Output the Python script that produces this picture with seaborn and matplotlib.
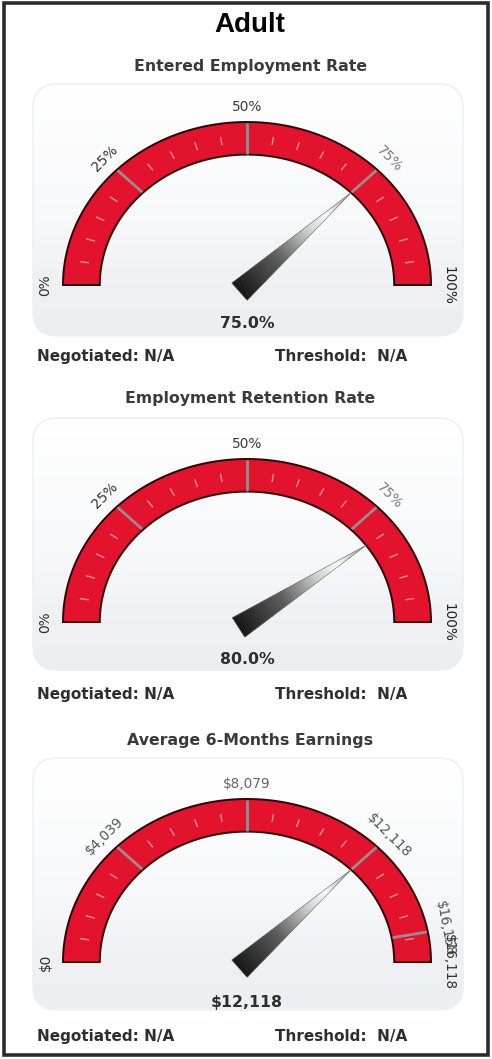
import numpy as np
import matplotlib
matplotlib.use("Agg")
import matplotlib.pyplot as plt
from matplotlib.patches import Polygon, FancyBboxPatch, Rectangle
from matplotlib.collections import PolyCollection, LineCollection
from matplotlib.colors import LinearSegmentedColormap
import seaborn as sns

sns.set_theme(style="white")
plt.rcParams['font.family'] = ['DejaVu Sans']

# ---------------- data ----------------
page_title = "Adult"
gauge_titles = ["Entered Employment Rate", "Employment Retention Rate", "Average 6-Months Earnings"]
gauge_values = [75.0, 80.0, 12118]
gauge_max = [100.0, 100.0, 16158]
value_labels = ["75.0%", "80.0%", "$12,118"]
tick_values = [
    [0, 25, 50, 75, 100],
    [0, 25, 50, 75, 100],
    [0, 4039, 8079, 12118, 15200, 16158],
]
tick_labels = [
    ["0%", "25%", "50%", "75%", "100%"],
    ["0%", "25%", "50%", "75%", "100%"],
    ["$0", "$4,039", "$8,079", "$12,118", "$16,158", "$16,118"],
]
tick_colors = [
    ["#2e2e2e", "#333333", "#3a3a3a", "#7a7a7a", "#222222"],
    ["#2e2e2e", "#333333", "#3a3a3a", "#7a7a7a", "#222222"],
    ["#2e2e2e", "#555555", "#666666", "#555555", "#555555", "#333333"],
]
negotiated = ["N/A", "N/A", "N/A"]
threshold = ["N/A", "N/A", "N/A"]

# ---------------- layout / style ----------------
W, H = 492, 1059
RED = "#e3122d"
TEXT = "#2e2e2e"
title_y = [67, 398, 740]
panel_top = [84, 418, 758]
center_y = [285, 622, 962]
value_y = [323, 660, 1002]
neg_y = [357, 694, 1037]
CX, RX, RY = 247, 184, 163
R_IN = 0.8

fig = plt.figure(figsize=(W / 100, H / 100), dpi=100)
fig.patch.set_facecolor("white")
ax = fig.add_axes([0, 0, 1, 1])
ax.set_xlim(0, W)
ax.set_ylim(H, 0)
ax.axis("off")

# outer frame
ax.add_patch(Rectangle((4, 3), 484, 1052, fill=False, ec="#2b2b2b", lw=2.6, zorder=10))

ax.text(250, 25, page_title, ha="center", va="center", fontsize=20,
        fontweight="bold", family="Liberation Sans", color="black")

panel_cmap = LinearSegmentedColormap.from_list(
    "panel", [(0, "#ffffff"), (0.55, "#f7f8fa"), (0.8, "#eef0f4"), (1, "#eceef2")])
needle_cmap = LinearSegmentedColormap.from_list(
    "needle", [(0, "#101010"), (0.35, "#5a5a5a"), (0.62, "#cfcfcf"),
               (0.78, "#fbfbfb"), (1, "#9a9a9a")])


def ell(r, th, cy):
    return CX + RX * r * np.cos(th), cy - RY * r * np.sin(th)


def draw_gauge(i):
    cy = center_y[i]
    # panel
    pt = panel_top[i]
    patch = FancyBboxPatch((33, pt), 430, 252, boxstyle="round,pad=0,rounding_size=24",
                           fc="none", ec="#eceef1", lw=1.0, zorder=1)
    ax.add_patch(patch)
    grad = np.linspace(0, 1, 256).reshape(-1, 1)
    im = ax.imshow(grad, cmap=panel_cmap, extent=(33, 463, pt + 252, pt),
                   aspect="auto", zorder=0.5, interpolation="bilinear")
    im.set_clip_path(patch)

    # band
    t = np.linspace(np.pi, 0, 300)
    ox, oy = ell(1.0, t, cy)
    ix, iy = ell(R_IN, t[::-1], cy)
    band = Polygon(np.c_[np.r_[ox, ix], np.r_[oy, iy]], closed=True,
                   fc=RED, ec="#2a0508", lw=1.4, zorder=3)
    ax.add_patch(band)

    vmax = gauge_max[i]
    # minor ticks every 5%
    segs = []
    for k in range(1, 20):
        if k % 5 == 0:
            continue
        th = np.pi * (1 - k / 20)
        x0, y0 = ell(0.87, th, cy)
        x1, y1 = ell(0.92, th, cy)
        segs.append([(x0, y0), (x1, y1)])
    ax.add_collection(LineCollection(segs, colors="#f4909c", lw=1.0, zorder=4))

    # major ticks + labels
    for v, lab, col in zip(tick_values[i], tick_labels[i], tick_colors[i]):
        f = v / vmax
        th = np.pi * (1 - f)
        if 0 < f < 1:
            x0, y0 = ell(R_IN + 0.005, th, cy)
            x1, y1 = ell(0.995, th, cy)
            ax.plot([x0, x1], [y0, y1], color="#9b8c8e", lw=2.0, zorder=4,
                    solid_capstyle="butt")
        lx, ly = ell(1.095, th, cy)
        rot = np.degrees(th) - 90
        ax.text(lx, ly, lab, ha="center", va="center", rotation=rot,
                rotation_mode="anchor", fontsize=9.8, color=col, zorder=5)

    # needle
    f = gauge_values[i] / vmax
    th = np.pi * (1 - f)
    tipx, tipy = ell(R_IN, th, cy)
    d = np.array([tipx - CX, tipy - cy])
    L = np.hypot(*d)
    u = d / L
    n = np.array([-u[1], u[0]])
    base = np.array([CX, cy]) - 10 * u
    total = L + 10
    hw = 11.5
    N = 80
    polys, cols = [], []
    for k in range(N):
        s0, s1 = k / N, (k + 1) / N
        p0 = base + u * total * s0
        p1 = base + u * total * s1
        w0, w1 = hw * (1 - s0), hw * (1 - s1)
        polys.append([p0 + n * w0, p1 + n * w1, p1 - n * w1, p0 - n * w0])
        cols.append(needle_cmap((s0 + s1) / 2))
    ax.add_collection(PolyCollection(polys, facecolors=cols, edgecolors=cols,
                                     lw=0.3, zorder=6))
    outline = [base + n * hw, base + u * total, base - n * hw]
    ax.add_patch(Polygon(outline, closed=True, fc="none", ec="#6a6a6a", lw=0.4, zorder=7))

    # texts
    ax.text(250, title_y[i], gauge_titles[i], ha="center", va="center",
            fontsize=11.3, fontweight="bold", color="#3a3a3a")
    ax.text(CX, value_y[i], value_labels[i], ha="center", va="center",
            fontsize=11.3, fontweight="bold", color=TEXT, zorder=8)
    ax.text(37, neg_y[i], "Negotiated: " + negotiated[i], ha="left", va="center",
            fontsize=11, fontweight="bold", color=TEXT)
    ax.text(275, neg_y[i], "Threshold:  " + threshold[i], ha="left", va="center",
            fontsize=11, fontweight="bold", color=TEXT)


for i in range(3):
    draw_gauge(i)

sns.despine(ax=ax, left=True, bottom=True)
fig.savefig("out.png", dpi=100, facecolor="white")
